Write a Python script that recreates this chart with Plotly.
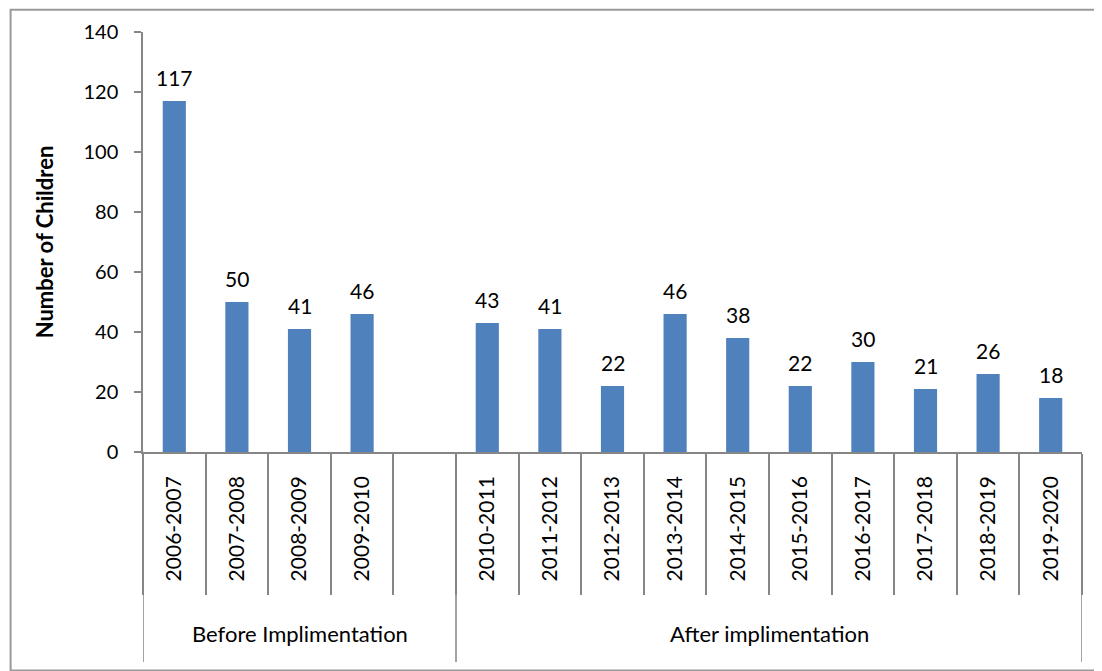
import plotly.graph_objects as go

categories = ["2006-2007", "2007-2008", "2008-2009", "2009-2010", " ",
              "2010-2011", "2011-2012", "2012-2013", "2013-2014", "2014-2015",
              "2015-2016", "2016-2017", "2017-2018", "2018-2019", "2019-2020"]
values = [117, 50, 41, 46, None, 43, 41, 22, 46, 38, 22, 30, 21, 26, 18]
groups = ["Before Implimentation", "After implimentation"]
group_sizes = [5, 10]
y_title = "Number of Children"

FONT = "Lato"
AXIS_COLOR = "#868686"

fig = go.Figure()
fig.add_trace(go.Bar(
    x=categories, y=values,
    marker=dict(color="#4F81BD", line=dict(width=0)),
    width=0.37,
))

# data labels above bars, placed at the bar values via the axes
for c, v in zip(categories, values):
    if v is None:
        continue
    fig.add_annotation(x=c, y=v, xref="x", yref="y", text=str(v), showarrow=False,
                       yanchor="bottom", yshift=9,
                       font=dict(family=FONT, size=21, color="#000000"))

fig.update_layout(
    width=1094, height=663,
    margin=dict(l=135, r=20, t=24, b=219),
    paper_bgcolor="white", plot_bgcolor="white",
    showlegend=False,
    font=dict(family=FONT, size=19, color="#000000"),
)

fig.update_xaxes(
    type="category",
    range=[-0.5, len(categories) - 0.5],
    tickangle=-90,
    showline=True, linecolor=AXIS_COLOR, linewidth=1.5,
    showgrid=False, zeroline=False,
    ticks="outside", tickson="boundaries", ticklen=141, tickcolor=AXIS_COLOR, tickwidth=1.5,
    ticklabelstandoff=14,
    tickfont=dict(family=FONT, size=21, color="#000000"),
)
fig.update_yaxes(
    range=[0, 140], dtick=20,
    showline=True, linecolor=AXIS_COLOR, linewidth=1.5,
    showgrid=False, zeroline=False,
    ticks="outside", ticklen=7, tickcolor=AXIS_COLOR, tickwidth=1.5,
    ticklabelstandoff=12,
    tickfont=dict(family=FONT, size=20, color="#000000"),
    title=dict(text="<b>" + y_title + "</b>", font=dict(family=FONT, size=22, color="#000000"), standoff=24),
)

# group dividers and labels, positioned on the category axis
start = 0
bounds = [-0.5]
for g, n in zip(groups, group_sizes):
    center = start + (n - 1) / 2
    fig.add_annotation(x=center, y=-0.433, xref="x", yref="paper", yanchor="middle",
                       text=g, showarrow=False,
                       font=dict(family=FONT, size=22, color="#000000"))
    start += n
    bounds.append(start - 0.5)
for b in bounds:
    fig.add_shape(type="line", xref="x", yref="paper", x0=b, x1=b, y0=0, y1=-0.5,
                  line=dict(color=AXIS_COLOR, width=1.5))

# outer chart border
fig.add_shape(type="rect", xref="paper", yref="paper", x0=-0.141, x1=1.027, y0=1.053, y1=-0.52,
              line=dict(color="#9a9a9a", width=2), layer="below")

fig.write_html("out.html")
